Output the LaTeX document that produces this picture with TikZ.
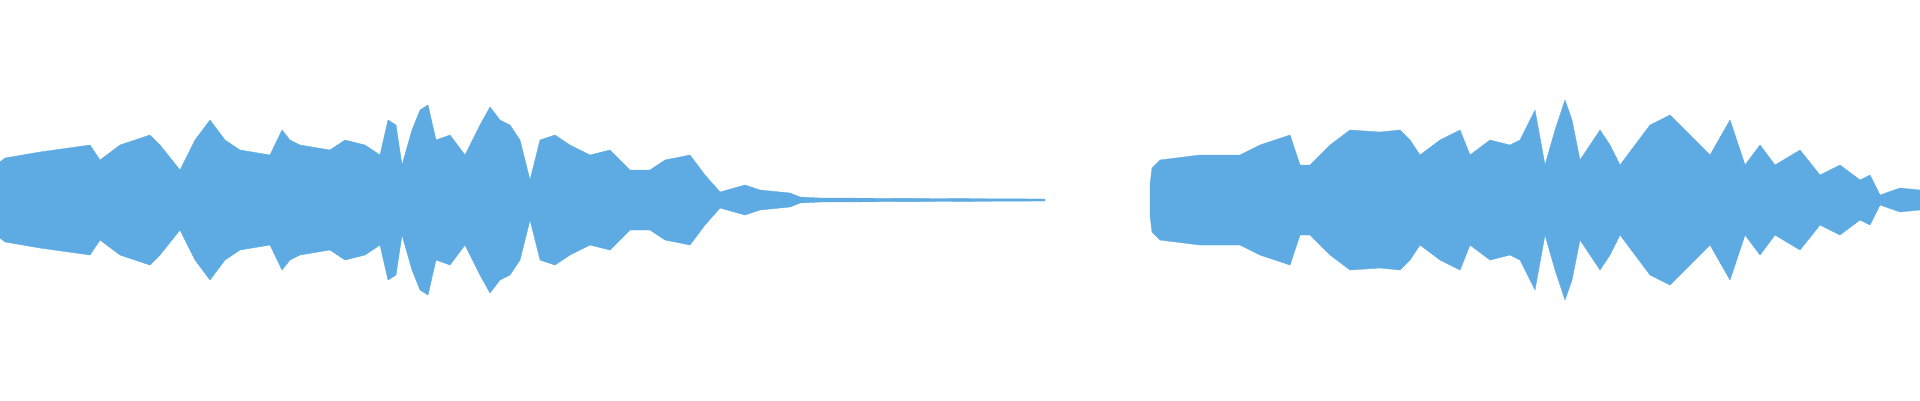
\documentclass[tikz,border=0pt]{standalone}
\definecolor{wave}{RGB}{93,171,226}
\tikzset{wavefill/.style={fill=wave,draw=wave,line width=0.1pt}}
\begin{document}
\begin{tikzpicture}[x=0.1mm,y=0.1mm]
\useasboundingbox (0,-200) rectangle (1920,200);
\def\segA{(0,38) (5,42) (40,48) (90,55) (100,40) (120,55) (150,65) (160,55) (180,30) (195,60) (210,80) (225,60) (240,50) (270,45) (282,70) (290,60) (300,55) (330,50) (345,60) (365,55) (380,45) (388,80) (396,75) (402,35) (412,70) (420,90) (428,95) (436,60) (450,65) (465,45) (480,75) (490,93) (500,80) (510,75) (520,60) (530,20) (540,60) (555,65) (570,55) (590,45) (610,50) (630,30) (650,30) (665,40) (690,45) (705,25) (720,8) (745,15) (760,10) (790,7) (800,3) (820,2) (1045,1)}
\def\segB{(1150,15) (1152,32) (1160,40) (1200,45) (1240,45) (1260,55) (1290,65) (1300,35) (1310,35) (1330,55) (1350,70) (1380,68) (1400,70) (1410,60) (1420,45) (1440,60) (1460,70) (1470,45) (1490,60) (1510,55) (1520,60) (1535,90) (1545,35) (1555,70) (1565,100) (1572,80) (1580,40) (1600,70) (1610,55) (1620,35) (1650,75) (1660,80) (1670,85) (1690,65) (1710,45) (1730,80) (1745,35) (1760,55) (1775,35) (1800,50) (1820,25) (1840,35) (1860,20) (1870,25) (1880,5) (1900,12) (1920,10)}
\foreach \s in {1,-1}{
\begin{scope}[yscale=\s]
\fill[wavefill] (0,0) -- plot coordinates {\segA} -- (1045,0) -- cycle;
\fill[wavefill] (1150,0) -- plot coordinates {\segB} -- (1920,0) -- cycle;
\end{scope}}
\end{tikzpicture}
\end{document}
